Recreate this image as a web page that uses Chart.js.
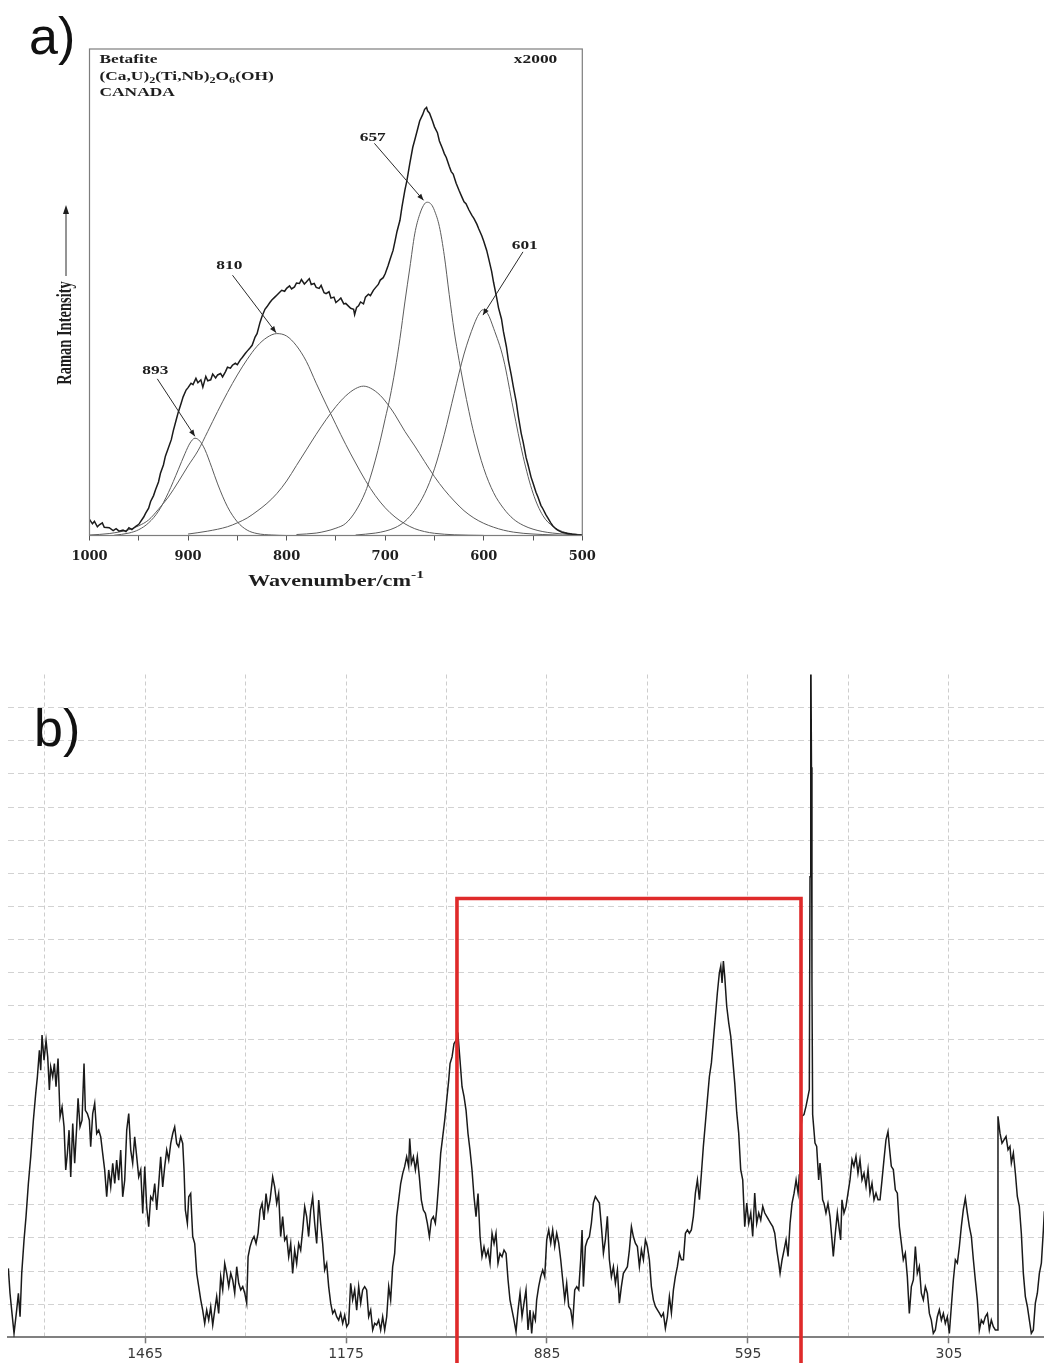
<!DOCTYPE html>
<html lang="en">
<head>
<meta charset="UTF-8">
<title>Betafite Raman spectra</title>
<script src="https://cdn.jsdelivr.net/npm/chart.js"></script>
<style>
    html, body { margin: 0; padding: 0; background: #fff; }
    body { position: relative; width: 1044px; height: 1363px; overflow: hidden; }
    .panel { position: absolute; left: 0; }
    #panelA { top: 0; width: 620px; height: 610px; }
    #panelB { top: 660px; width: 1044px; height: 703px; }
    .tag { position: absolute; font-family: "Liberation Sans", Arial, sans-serif; font-size: 52px; line-height: 52px; color: #111; }
</style>
</head>
<body>
<div class="panel" id="panelA"><canvas id="chartA"></canvas></div>
<div class="panel" id="panelB"><canvas id="chartB"></canvas></div>
<div class="tag" style="left:29px; top:10px;">a)</div>
<div class="tag" style="left:34px; top:702px;">b)</div>

<script>
// ---------- panel a: band fit of the 500-1000 cm-1 region ----------
const aWave = [
    1000, 997, 995, 992, 990, 987, 985, 980, 976, 973,
    970, 966, 963, 960, 957, 953, 950, 948, 945, 943,
    940, 938, 935, 933, 930, 928, 925, 923, 920, 917,
    915, 912, 910, 907, 905, 902, 900, 897, 895, 892,
    890, 887, 885, 882, 880, 877, 875, 872, 870, 867,
    865, 862, 860, 857, 855, 852, 850, 847, 845, 842,
    840, 837, 835, 832, 830, 827, 825, 822, 820, 817,
    815, 812, 810, 807, 805, 802, 800, 797, 795, 792,
    790, 787, 785, 782, 780, 777, 775, 772, 770, 767,
    765, 762, 760, 757, 755, 752, 750, 747, 745, 742,
    740, 737, 735, 732, 731, 729, 727, 725, 722, 720,
    717, 715, 712, 710, 707, 705, 702, 700, 697, 695,
    692, 690, 688, 685, 683, 680, 678, 675, 672, 670,
    667, 665, 662, 660, 658, 657, 655, 652, 650, 647,
    645, 642, 640, 638, 635, 633, 631, 628, 625, 622,
    620, 618, 615, 612, 610, 607, 605, 602, 600, 597,
    595, 592, 590, 587, 585, 582, 580, 577, 575, 572,
    570, 567, 565, 562, 560, 557, 555, 552, 550, 547,
    545, 542, 540, 537, 535, 532, 530, 527, 525, 522,
    520, 515, 510, 505, 500
];
const aTotal = [
    3.3, 2.4, 2.9, 1.8, 2.2, 2.6, 1.7, 1.6, 1.0, 1.4,
    0.9, 1.1, 0.8, 1.6, 1.2, 1.9, 2.3, 2.9, 3.8, 4.6,
    5.6, 7.0, 8.2, 9.4, 11.0, 12.8, 14.5, 16.3, 18.0, 19.7,
    21.5, 23.8, 25.3, 27.2, 28.5, 29.9, 30.4, 31.3, 31.0, 32.3,
    31.4, 32.0, 30.5, 32.7, 31.8, 32.0, 33.2, 32.4, 33.0, 33.3,
    32.6, 33.7, 34.6, 34.4, 35.0, 35.4, 35.1, 36.1, 36.6, 37.4,
    37.9, 38.6, 39.1, 40.8, 41.5, 43.8, 45.0, 46.5, 47.0, 47.9,
    48.4, 49.0, 49.4, 50.0, 50.4, 50.2, 50.8, 51.3, 50.7, 51.1,
    51.9, 51.8, 52.6, 51.7, 52.1, 52.8, 51.6, 51.8, 51.0, 50.8,
    51.4, 49.9, 49.7, 50.1, 48.8, 49.0, 47.9, 48.4, 48.8, 47.6,
    47.7, 47.1, 46.7, 46.5, 45.4, 46.9, 47.2, 48.0, 47.6, 49.0,
    49.6, 49.3, 50.4, 50.9, 51.6, 52.5, 53.0, 53.8, 55.5, 56.8,
    58.6, 60.5, 62.5, 64.8, 67.5, 71.0, 72.9, 76.5, 79.8, 81.3,
    83.6, 85.2, 86.5, 87.6, 88.0, 87.3, 86.8, 85.2, 84.0, 82.8,
    81.1, 79.6, 78.5, 77.7, 75.9, 74.8, 74.3, 72.4, 70.9, 69.5,
    68.6, 68.2, 66.9, 65.8, 65.2, 64.0, 63.0, 61.6, 60.5, 58.6,
    56.9, 54.3, 52.0, 49.0, 46.8, 44.5, 41.9, 38.8, 36.0, 32.9,
    30.6, 27.4, 24.6, 21.0, 19.2, 16.0, 14.5, 12.0, 10.8, 8.9,
    7.9, 6.2, 5.5, 4.3, 3.6, 2.6, 2.0, 1.4, 1.1, 0.8,
    0.6, 0.4, 0.25, 0.15, 0.1
];

// fitted component bands
const fit893Wave = [975, 960, 950, 940, 930, 920, 910, 903, 898, 893, 888, 883, 876, 870, 860, 850, 840, 830, 815, 800];
const fit893 = [0.05, 0.5, 1.2, 2.6, 5.0, 8.8, 13.5, 16.9, 19.0, 20.0, 19.4, 17.7, 14.0, 10.6, 5.9, 2.8, 1.1, 0.4, 0.1, 0.0];

const fit810Wave = [1000, 980, 960, 950, 940, 930, 920, 910, 900, 890, 880, 870, 860, 850, 840, 830, 820, 810,
    800, 790, 780, 770, 760, 750, 740, 730, 720, 710, 700, 690, 680, 670, 660, 650, 630, 600];
const fit810 = [0.1, 0.4, 1.2, 2.0, 3.2, 5.4, 7.9, 11.0, 14.3, 17.4, 21.4, 25.5, 29.4, 33.0, 36.2, 38.9, 40.7, 41.5,
    41.0, 39.0, 35.8, 31.3, 27.0, 22.8, 18.7, 14.9, 11.3, 8.2, 5.7, 3.8, 2.4, 1.4, 0.8, 0.45, 0.15, 0.02];

const fit722Wave = [900, 880, 860, 850, 840, 830, 820, 810, 800, 790, 780, 770, 760, 750, 740, 730, 722, 715,
    705, 695, 690, 680, 670, 660, 650, 640, 630, 620, 610, 600, 590, 580, 570, 560, 540, 520];
const fit722 = [0.3, 0.9, 1.8, 2.6, 3.6, 5.0, 6.6, 8.6, 11.2, 14.4, 17.6, 20.8, 23.8, 26.5, 28.7, 30.2, 30.7, 30.3,
    28.8, 26.3, 24.8, 21.4, 18.4, 15.2, 12.1, 9.4, 7.1, 5.1, 3.6, 2.5, 1.7, 1.1, 0.7, 0.45, 0.2, 0.05];

const fit657Wave = [790, 770, 760, 750, 740, 730, 720, 715, 710, 705, 700, 695, 690, 685, 680, 675, 670, 665, 660, 657,
    653, 650, 645, 640, 635, 630, 625, 620, 615, 610, 600, 590, 580, 570, 560, 550, 540, 530, 520, 510, 500];
const fit657 = [0.2, 0.5, 0.9, 1.5, 2.5, 5.0, 9.0, 12.0, 15.5, 19.5, 24.0, 28.5, 34.0, 40.5, 48.0, 55.0, 62.0, 66.0, 68.2, 68.5,
    68.0, 66.8, 63.5, 57.5, 49.5, 42.0, 36.0, 30.5, 25.5, 21.0, 13.8, 8.8, 5.6, 3.4, 2.1, 1.3, 0.8, 0.5, 0.3, 0.15, 0.1];

const fit601Wave = [730, 710, 700, 690, 680, 670, 660, 650, 640, 630, 620, 610, 605, 601, 596, 590, 580, 570, 560, 550, 540, 530, 520, 510, 500];
const fit601 = [0.1, 0.5, 0.9, 1.6, 2.9, 5.2, 8.6, 13.7, 20.8, 29.2, 37.3, 43.3, 45.5, 46.4, 45.6, 42.6, 36.3, 26.0, 16.2, 8.7, 4.1, 1.9, 0.8, 0.35, 0.15];

const aTicks = [1000, 950, 900, 850, 800, 750, 700, 650, 600, 550, 500];
const aTickLabels = [1000, 900, 800, 700, 600, 500];

// ---------- panel b: full spectrum ----------
const bWave = [
    1662.2, 1659.8, 1657.4, 1654.0, 1650.2, 1647.7, 1645.3, 1642.9, 1639.6, 1636.7,
    1633.3, 1629.9, 1626.1, 1622.7, 1620.3, 1617.4, 1615.5, 1613.6, 1610.7, 1607.8,
    1605.4, 1603.0, 1601.1, 1598.2, 1595.8, 1593.4, 1590.5, 1587.6, 1584.7, 1581.8,
    1579.4, 1577.0, 1574.6, 1572.2, 1569.3, 1566.5, 1563.6, 1561.6, 1558.8, 1555.9,
    1553.0, 1551.1, 1548.2, 1545.3, 1543.4, 1540.5, 1537.6, 1534.7, 1531.8, 1528.9,
    1526.1, 1523.2, 1520.3, 1517.4, 1514.5, 1511.6, 1508.7, 1505.9, 1503.0, 1500.1,
    1497.2, 1494.3, 1491.4, 1488.5, 1485.6, 1482.8, 1479.9, 1477.0, 1474.1, 1471.2,
    1468.3, 1465.4, 1462.6, 1459.7, 1456.8, 1453.9, 1451.0, 1448.1, 1445.2, 1442.4,
    1439.5, 1436.6, 1433.7, 1430.8, 1427.9, 1425.0, 1422.2, 1419.3, 1416.4, 1413.5,
    1410.6, 1408.7, 1406.8, 1403.9, 1401.9, 1399.1, 1396.2, 1393.3, 1390.4, 1387.5,
    1384.6, 1381.8, 1378.9, 1376.0, 1373.1, 1370.2, 1367.3, 1364.4, 1361.6, 1358.7,
    1355.8, 1352.9, 1350.0, 1347.1, 1344.2, 1341.3, 1338.5, 1335.6, 1332.7, 1329.8,
    1326.9, 1324.0, 1321.1, 1318.3, 1316.3, 1313.5, 1310.6, 1307.7, 1304.8, 1301.9,
    1299.0, 1296.1, 1293.3, 1290.4, 1287.5, 1284.6,
    1280.8, 1277.9, 1275.0, 1272.2, 1269.3, 1266.4, 1263.5, 1260.6, 1257.7, 1254.8,
    1252.0, 1249.1, 1246.2, 1243.3, 1240.4, 1237.5, 1234.6, 1231.8, 1228.9, 1226.0,
    1223.1, 1220.2, 1217.3, 1214.4, 1211.6, 1208.7, 1205.8, 1202.9, 1200.0, 1197.1,
    1194.2, 1191.4, 1188.5, 1185.6, 1182.7, 1179.8, 1176.9, 1174.0, 1171.2, 1168.3,
    1165.4, 1162.5, 1159.6, 1156.7, 1153.8, 1151.0, 1148.1, 1145.2, 1142.3, 1139.4,
    1136.5, 1133.6, 1130.8, 1127.9, 1125.0, 1122.1, 1119.2, 1116.3, 1113.4, 1110.6,
    1107.7, 1104.8, 1101.9, 1099.0, 1096.1, 1093.2, 1090.4, 1087.5, 1084.6, 1083.1,
    1080.7, 1077.8, 1074.9, 1072.1, 1069.2, 1066.3, 1063.4, 1060.5, 1057.6, 1054.7,
    1051.9, 1049.0, 1046.1, 1044.2, 1041.3, 1038.4, 1035.5, 1032.6, 1029.7, 1026.8,
    1024.9, 1022.0, 1019.2, 1016.3, 1013.4, 1010.5, 1007.6, 1004.7, 1001.8, 999.0,
    996.1, 993.2, 990.3, 987.4, 984.5, 981.6, 978.8, 975.9, 973.0, 970.1,
    967.2, 964.3, 961.4, 958.6, 955.7, 952.8, 949.9, 947.0, 944.1, 941.2,
    938.4, 935.5, 932.6, 929.7, 926.8, 923.9, 921.0, 918.2, 915.3, 912.4, 909.5,
    907.1, 904.7, 901.8, 899.9, 897.0, 894.1, 891.2, 888.3, 885.4, 882.5,
    879.6, 876.8, 873.9, 871.0, 868.1, 865.2, 862.3, 859.4, 856.6, 853.7,
    850.8, 847.9, 845.0, 842.1, 839.2, 836.4, 834.4, 832.5, 829.6, 826.7,
    823.8, 821.0, 818.1, 815.2, 812.3, 809.4, 806.5, 803.6, 800.8, 797.9,
    795.0, 792.1, 789.2, 786.3, 783.4, 780.6, 777.7, 774.8, 771.9, 769.0,
    766.1, 763.2, 760.4, 757.5, 754.6, 751.7, 748.8, 745.9, 743.0, 740.2,
    737.3, 734.4, 731.5, 728.6, 725.7, 722.8, 720.0, 717.1, 714.2, 711.3,
    708.4, 705.5, 702.6, 699.8, 696.9, 694.0, 691.1, 688.2, 685.3, 682.4,
    679.6, 676.7, 673.8, 670.9, 668.0, 665.1, 662.2, 659.4, 656.5, 653.6,
    650.7, 647.8, 644.9, 642.0, 639.2, 636.3, 634.3, 632.4, 630.5, 628.6,
    625.7, 622.8, 619.9, 617.0, 614.1, 611.2, 608.4, 605.5, 602.6, 599.7,
    596.8, 593.9, 591.0, 588.2, 585.3, 582.4, 579.5, 576.6, 573.7, 570.8,
    568.0, 565.1, 562.2, 559.3, 556.4, 553.5, 550.6, 548.7, 545.8, 542.9,
    540.1, 537.2, 534.3, 531.4, 528.5, 525.6, 522.7, 521.0,
    520.0, 517.1, 514.2, 511.3, 508.4, 506.5, 505.5, 504.8, 504.1, 503.4,
    502.7, 501.7, 498.3, 495.9, 493.0, 491.1, 489.2, 487.3, 485.3, 482.5,
    479.6, 476.7, 473.8, 471.9, 469.0, 466.1, 463.2, 461.3, 459.4, 456.5,
    453.6, 450.7, 447.8, 444.9, 442.1, 439.2, 436.3, 433.4, 430.5, 427.6,
    424.7, 421.8, 419.0, 416.1, 413.2, 410.3, 407.4, 404.5, 401.6, 398.8,
    395.9, 393.0, 391.1, 388.2, 385.3, 382.4, 379.5, 376.6, 373.7, 370.9,
    368.0, 365.1, 362.2, 359.3, 356.4, 353.5, 350.7, 347.8, 344.9, 342.0,
    339.1, 336.2, 333.3, 330.5, 327.6, 324.7, 321.8, 318.9, 316.0, 313.1,
    310.3, 307.4, 304.5, 301.6, 298.7, 295.8, 292.9, 290.0, 287.2, 284.3,
    281.4, 278.5, 275.6, 272.7, 269.8, 267.0, 264.1, 261.2, 258.3, 255.4,
    252.5, 249.6, 246.8, 243.9, 241.0, 238.1, 235.2, 234.3, 231.4, 228.5,
    225.6, 222.7, 219.8, 217.0, 215.0, 212.1, 209.2, 206.4, 203.5, 200.6,
    197.7, 194.8, 191.9, 189.0, 186.2, 183.3, 180.4, 177.5, 174.6, 171.7,
    168.8, 167.4
];
const bIntensity = [
    2.08, 1.33, 0.82, 0.12, 0.82, 1.33, 0.62, 1.93, 2.93, 3.64,
    4.64, 5.45, 6.55, 7.36, 7.86, 8.66, 8.06, 9.12, 8.36, 8.96,
    8.46, 7.46, 8.16, 7.86, 8.26, 7.56, 8.41, 6.65, 6.95, 6.35,
    5.05, 5.55, 6.25, 4.84, 6.45, 5.25, 6.35, 7.21, 6.35, 6.55,
    8.26, 6.85, 6.75, 6.55, 5.75, 6.75, 7.06, 6.15, 6.25, 6.05,
    5.55, 5.05, 4.24, 5.05, 4.54, 5.25, 4.64, 5.35, 4.74, 5.65,
    4.24, 4.74, 6.25, 6.75, 5.65, 5.25, 6.05, 5.45, 4.84, 5.05,
    3.74, 5.15, 3.94, 3.34, 4.24, 4.14, 4.64, 3.84, 4.64, 5.45,
    4.54, 5.15, 5.65, 5.35, 5.85, 6.15, 6.35, 5.85, 5.75, 6.05,
    5.85, 5.05, 3.84, 3.44, 4.24, 4.34, 3.04, 2.83, 1.93, 1.53,
    1.13, 0.82, 0.42, 0.82, 0.52, 0.92, 0.37, 0.82, 1.23, 0.72,
    1.83, 1.43, 2.23, 1.93, 1.53, 1.93, 1.73, 1.33, 2.13, 1.63,
    1.43, 1.53, 1.33, 1.03, 2.43, 2.73, 2.93, 3.04, 2.83, 3.14,
    3.84, 4.04, 3.54, 4.34, 3.84, 4.14,
    4.84, 4.54, 4.04, 4.34, 3.04, 3.64, 2.93, 3.04, 2.43, 2.83,
    1.93, 2.63, 2.23, 2.83, 2.63, 3.24, 3.94, 3.64, 3.04, 3.84,
    4.24, 3.44, 2.83, 4.14, 3.44, 2.83, 2.03, 2.23, 1.53, 1.03,
    0.72, 0.82, 0.62, 0.52, 0.72, 0.42, 0.67, 0.32, 0.42, 1.63,
    1.13, 1.43, 0.82, 1.53, 1.03, 1.43, 1.53, 1.43, 0.62, 0.82,
    0.22, 0.42, 0.37, 0.52, 0.22, 0.62, 0.22, 0.62, 1.53, 1.13,
    2.13, 2.53, 3.64, 4.14, 4.64, 4.94, 5.15, 5.45, 5.15, 6.0,
    5.25, 5.45, 5.05, 5.45, 4.84, 4.14, 3.84, 3.74, 3.44, 3.04,
    3.54, 3.64, 3.44, 3.84, 4.64, 5.55, 6.05, 6.55, 7.16, 7.76,
    8.26, 8.46, 8.86, 8.96, 9.12, 8.36, 7.56, 7.26, 6.85, 6.15,
    5.65, 5.05, 4.24, 3.64, 4.34, 3.04, 2.43, 2.73, 2.43, 2.63,
    2.23, 3.14, 2.83, 3.14, 2.23, 2.53, 2.43, 2.63, 2.53, 1.73,
    1.13, 0.82, 0.52, 0.17, 0.82, 1.33, 0.62, 1.03, 1.43, 0.22, 0.82,
    0.12, 0.72, 0.52, 1.13, 1.53, 1.83, 2.03, 1.83, 2.94, 3.24,
    2.84, 3.24, 2.74, 3.14, 2.84, 2.34, 1.73, 1.13, 1.63, 0.93,
    0.83, 0.42, 1.43, 1.53, 1.43, 2.34, 3.24, 1.53, 2.74, 2.94,
    3.04, 3.44, 4.05, 4.25, 4.15, 4.05, 3.34, 2.54, 2.94, 3.65,
    2.34, 1.83, 2.13, 1.63, 2.03, 1.03, 1.53, 1.93, 2.03, 2.13,
    2.64, 3.34, 3.04, 2.84, 2.74, 2.13, 2.64, 2.34, 2.94, 2.74,
    2.34, 1.53, 1.13, 0.93, 0.83, 0.73, 0.62, 0.73, 0.27, 0.62,
    1.23, 0.73, 1.43, 1.83, 2.13, 2.54, 2.34, 2.34, 3.14, 3.24,
    3.14, 3.24, 3.65, 4.35, 4.75, 4.15, 4.95, 5.76, 6.46, 7.17,
    7.87, 8.28, 8.98, 9.69, 10.39, 11.0, 11.2, 10.69, 11.35, 10.9,
    9.99, 9.49, 9.08, 8.38, 7.67, 6.77, 6.16, 5.06, 4.75, 3.34,
    4.05, 3.44, 3.75, 3.04, 4.35, 3.44, 3.75, 3.54, 3.95, 3.75,
    3.65, 3.54, 3.44, 3.34, 3.14, 2.64, 2.24, 1.93, 2.34, 2.64,
    2.94, 2.44, 3.44, 4.05, 4.35, 4.75, 4.35, 4.9,
    5.96, 6.67, 6.72, 6.97, 7.27, 7.47, 13.9, 17.2, 21.5, 17.2,
    10.7, 6.72, 5.86, 5.76, 4.75, 5.26, 4.75, 4.15, 4.04, 3.75,
    4.04, 3.64, 2.94, 2.44, 3.14, 3.75, 3.24, 2.94, 4.15, 3.75,
    3.95, 4.35, 4.75, 5.36, 5.16, 5.46, 4.95, 5.36, 4.75, 4.95,
    4.55, 5.06, 4.35, 4.65, 4.15, 4.35, 4.15, 4.15, 4.75, 5.36,
    5.96, 6.21, 5.76, 5.16, 5.06, 4.45, 4.35, 3.34, 2.84, 2.34,
    2.54, 1.83, 0.72, 1.53, 1.73, 2.74, 1.93, 2.14, 1.33, 1.13,
    1.53, 1.33, 0.72, 0.52, 0.12, 0.22, 0.62, 0.83, 0.52, 0.72,
    0.42, 0.62, 0.12, 0.93, 1.73, 2.34, 2.24, 2.74, 3.34, 3.85,
    4.2, 3.75, 3.34, 3.04, 2.34, 1.73, 1.13, 0.22, 0.52, 0.42,
    0.62, 0.72, 0.22, 0.52, 0.32, 0.22, 0.22, 6.67, 6.16, 5.86,
    5.96, 6.06, 5.66, 5.76, 5.26, 5.56, 4.95, 4.25, 3.95, 3.14,
    1.93, 1.23, 0.93, 0.52, 0.12, 0.22, 1.03, 1.33, 1.93, 2.24,
    3.24, 3.8
];

const bGridWaves = [1610, 1465, 1320, 1175, 1030, 885, 740, 595, 450, 305];
const bTickLabels = [1465, 1175, 885, 595, 305];

// highlighted window (the range shown in panel a)
const windowFrom = 1014.9;
const windowTo = 518.5;
const windowTop = 13.24;

// label + arrow for each fitted band, in data units of panel a
const bandNotes = [
    {text: '893', label: [933.2, 33.8], from: [931.2, 32.2], to: [893.1, 20.4]},
    {text: '810', label: [858.1, 55.4], from: [854.9, 53.5], to: [810.7, 41.7]},
    {text: '657', label: [712.6, 81.8], from: [710.9, 80.6], to: [661.1, 68.9]},
    {text: '601', label: [558.4, 59.6], from: [560.2, 58.3], to: [600.8, 45.3]}
];

const STRETCH = 1.39; // the printed panel a is wider than its type

function points(xs, ys) {
    return xs.map((x, i) => ({x: x, y: ys[i]}));
}

// draws a row of text pieces; shift 1 = subscript, -1 = superscript
function drawRuns(ctx, runs, x, y, size, align) {
    const fontOf = r => 'bold ' + (r[1] ? size * 0.7 : size) + 'px "Liberation Serif", serif';
    ctx.save();
    ctx.translate(x, y);
    ctx.scale(STRETCH, 1);
    ctx.textAlign = 'left';
    ctx.textBaseline = 'middle';
    let total = 0;
    runs.forEach(r => { ctx.font = fontOf(r); total += ctx.measureText(r[0]).width; });
    let cx = align === 'center' ? -total / 2 : (align === 'right' ? -total : 0);
    runs.forEach(r => {
        ctx.font = fontOf(r);
        const dy = r[1] > 0 ? size * 0.32 : (r[1] < 0 ? -size * 0.42 : 0);
        ctx.fillText(r[0], cx, dy);
        cx += ctx.measureText(r[0]).width;
    });
    ctx.restore();
}

function drawArrow(ctx, x1, y1, x2, y2) {
    const ang = Math.atan2(y2 - y1, x2 - x1);
    ctx.beginPath();
    ctx.moveTo(x1, y1);
    ctx.lineTo(x2, y2);
    ctx.stroke();
    ctx.beginPath();
    ctx.moveTo(x2, y2);
    ctx.lineTo(x2 - 7 * Math.cos(ang - 0.38), y2 - 7 * Math.sin(ang - 0.38));
    ctx.lineTo(x2 - 7 * Math.cos(ang + 0.38), y2 - 7 * Math.sin(ang + 0.38));
    ctx.closePath();
    ctx.fill();
}

const panelAText = {
    id: 'panelAText',
    afterDatasetsDraw(chart) {
        const {ctx, chartArea: area, scales: {x, y}} = chart;
        ctx.save();
        ctx.strokeStyle = '#7d7d7d';
        ctx.lineWidth = 1.2;
        ctx.strokeRect(area.left, area.top, area.right - area.left, area.bottom - area.top);

        ctx.fillStyle = '#1e1e1e';
        drawRuns(ctx, [['Betafite', 0]], area.left + 10, area.top + 11, 12.5, 'left');
        drawRuns(ctx, [['(Ca,U)', 0], ['2', 1], ['(Ti,Nb)', 0], ['2', 1], ['O', 0], ['6', 1], ['(OH)', 0]],
            area.left + 10, area.top + 27.5, 12.5, 'left');
        drawRuns(ctx, [['CANADA', 0]], area.left + 10, area.top + 43.5, 12.5, 'left');
        drawRuns(ctx, [['x2000', 0]], area.right - 25, area.top + 11, 12.5, 'right');

        ctx.strokeStyle = '#2a2a2a';
        ctx.lineWidth = 1;
        bandNotes.forEach(b => {
            drawRuns(ctx, [[b.text, 0]], x.getPixelForValue(b.label[0]), y.getPixelForValue(b.label[1]), 12.5, 'center');
            drawArrow(ctx, x.getPixelForValue(b.from[0]), y.getPixelForValue(b.from[1]),
                x.getPixelForValue(b.to[0]), y.getPixelForValue(b.to[1]));
        });

        // x axis title
        drawRuns(ctx, [['Wavenumber/cm', 0], ['-1', -1]], (area.left + area.right) / 2, area.bottom + 46.5, 16, 'center');

        // y axis title with its arrow
        ctx.save();
        ctx.translate(71, 333);
        ctx.rotate(-Math.PI / 2);
        ctx.scale(1, STRETCH);
        ctx.font = 'bold 14.5px "Liberation Serif", serif';
        ctx.textAlign = 'center';
        ctx.textBaseline = 'alphabetic';
        ctx.fillText('Raman Intensity', 0, 0);
        ctx.restore();
        ctx.beginPath();
        ctx.moveTo(66, 276);
        ctx.lineTo(66, 212);
        ctx.stroke();
        ctx.beginPath();
        ctx.moveTo(66, 205);
        ctx.lineTo(63, 214);
        ctx.lineTo(69, 214);
        ctx.closePath();
        ctx.fill();
        ctx.restore();
    }
};

const windowBox = {
    id: 'windowBox',
    afterDatasetsDraw(chart) {
        const {ctx, scales: {x, y}} = chart;
        const left = x.getPixelForValue(windowFrom);
        const right = x.getPixelForValue(windowTo);
        const top = y.getPixelForValue(windowTop);
        const bottom = chart.height + 5;
        ctx.save();
        ctx.strokeStyle = '#df2a2a';
        ctx.lineWidth = 3.6;
        ctx.beginPath();
        ctx.moveTo(left, bottom);
        ctx.lineTo(left, top);
        ctx.lineTo(right, top);
        ctx.lineTo(right, bottom);
        ctx.stroke();
        ctx.restore();
    }
};

const bandLine = {pointRadius: 0, fill: false, borderColor: '#5c5c5c', borderWidth: 1, cubicInterpolationMode: 'monotone'};

new Chart(document.getElementById('chartA'), {
    type: 'line',
    data: {
        datasets: [
            {data: points(aWave, aTotal), pointRadius: 0, fill: false, borderColor: '#1b1b1b', borderWidth: 1.5, tension: 0},
            {...bandLine, data: points(fit893Wave, fit893)},
            {...bandLine, data: points(fit810Wave, fit810)},
            {...bandLine, data: points(fit722Wave, fit722)},
            {...bandLine, data: points(fit657Wave, fit657)},
            {...bandLine, data: points(fit601Wave, fit601)}
        ]
    },
    options: {
        responsive: true,
        maintainAspectRatio: false,
        animation: false,
        layout: {padding: {left: 89.5, right: 37.7, top: 49, bottom: 0}},
        plugins: {legend: {display: false}, tooltip: {enabled: false}},
        scales: {
            x: {
                type: 'linear',
                reverse: true,
                min: 500,
                max: 1000,
                afterBuildTicks: scale => { scale.ticks = aTicks.map(v => ({value: v})); },
                afterFit: scale => { scale.height = 74.5; },
                ticks: {
                    autoSkip: false,
                    maxRotation: 0,
                    padding: 8,
                    color: '#1e1e1e',
                    font: {family: 'DejaVu Serif', weight: 'bold', size: 13},
                    callback: v => aTickLabels.includes(v) ? String(v) : ''
                },
                grid: {display: true, drawOnChartArea: false, tickLength: 5, tickColor: '#555', color: '#555'},
                border: {display: false}
            },
            y: {display: false, min: 0, max: 100}
        }
    },
    plugins: [panelAText]
});

new Chart(document.getElementById('chartB'), {
    type: 'line',
    data: {
        datasets: [
            {data: points(bWave, bIntensity), pointRadius: 0, fill: false, borderColor: '#1a1a1a', borderWidth: 1.5, tension: 0}
        ]
    },
    options: {
        responsive: true,
        maintainAspectRatio: false,
        animation: false,
        layout: {padding: {left: 8, right: 0, top: 14.5, bottom: 0}},
        plugins: {legend: {display: false}, tooltip: {enabled: false}},
        scales: {
            x: {
                type: 'linear',
                reverse: true,
                min: 167.9,
                max: 1662.7,
                afterBuildTicks: scale => { scale.ticks = bGridWaves.map(v => ({value: v})); },
                afterFit: scale => { scale.height = 25.7; },
                ticks: {
                    autoSkip: false,
                    maxRotation: 0,
                    padding: 3,
                    color: '#3a3a3a',
                    font: {family: 'DejaVu Sans', size: 14},
                    callback: v => bTickLabels.includes(v) ? String(v) : ''
                },
                grid: {
                    color: '#cdcdcd',
                    lineWidth: 1,
                    tickLength: 6,
                    tickWidth: 1.5,
                    tickColor: c => bTickLabels.includes(c.tick.value) ? '#777' : 'rgba(0,0,0,0)'
                },
                border: {display: true, color: '#808080', width: 2, dash: [4, 3]}
            },
            y: {
                min: 0,
                max: 20,
                afterFit: scale => { scale.width = 0; },
                ticks: {display: false, stepSize: 1, maxTicksLimit: 25},
                grid: {
                    drawTicks: false,
                    color: c => (c.tick.value <= 0 || c.tick.value >= 20) ? 'rgba(0,0,0,0)' : '#d2d2d2'
                },
                border: {display: false, dash: [6, 4]}
            }
        }
    },
    plugins: [windowBox]
});
</script>
</body>
</html>
